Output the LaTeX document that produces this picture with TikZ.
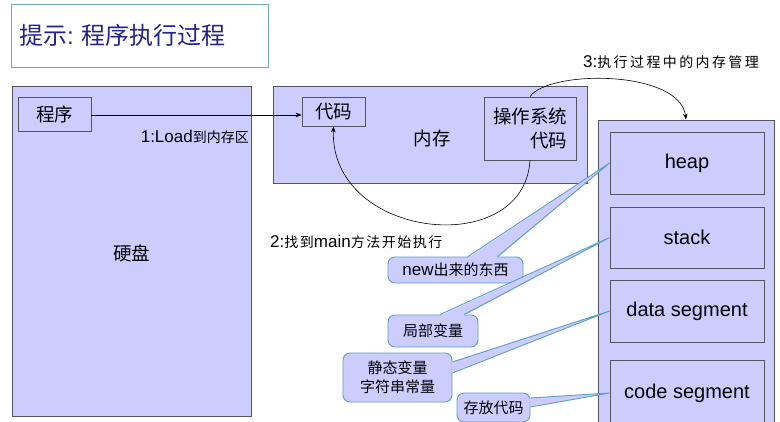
\documentclass[tikz,border=0pt]{standalone}
\usepackage{fontspec}
\setmainfont{Noto Sans CJK SC}
\newfontfamily\lat{Liberation Sans}
\newfontfamily\cjkA[LetterSpace=11]{Noto Sans CJK SC}
\newfontfamily\cjkB[LetterSpace=17]{Noto Sans CJK SC}
\usetikzlibrary{arrows.meta}
\definecolor{boxfill}{RGB}{204,204,255}
\definecolor{boxline}{RGB}{85,85,95}
\definecolor{callline}{RGB}{90,160,195}
\definecolor{titleline}{RGB}{110,170,170}
\definecolor{titletext}{RGB}{35,35,140}
\newcommand{\latbig}[1]{{\lat\fontsize{17}{20}\selectfont #1}}
\begin{document}
\begin{tikzpicture}[x=1pt,y=-1pt,
  box/.style={draw=boxline,fill=boxfill,line width=0.8pt,inner sep=0pt,anchor=center},
  callbox/.style={draw=callline,fill=boxfill,line width=0.9pt,rounded corners=7pt,inner sep=0pt,anchor=center,font=\fontsize{15}{19}\selectfont,align=center},
  callwedge/.style={fill=boxfill},
  callwedgeline/.style={draw=callline,line width=0.9pt},
  arr/.style={-{Stealth[length=6pt,width=4.5pt]},line width=0.6pt,black},
  lbl/.style={inner sep=0pt,font=\fontsize{14}{18}\selectfont},
  big/.style={font=\fontsize{18.5}{24}\selectfont},
  seg/.style={box,minimum width=154pt,font=\lat\fontsize{20}{24}\selectfont}]
\useasboundingbox (0,0) rectangle (780,421);
\fill[white] (0,0) rectangle (780,421);
% title
\node[draw=titleline,line width=0.8pt,fill=white,minimum width=257pt,minimum height=63pt,inner sep=0pt] (titlebox) at (139.5,35.5) {};
\node[anchor=west,inner sep=0pt,text=titletext,font=\fontsize{24}{28}\selectfont] (title) at (19,35) {提示{\lat :} 程序执行过程};
% hard disk
\node[box,minimum width=239pt,minimum height=330pt] (disk) at (131.5,251) {};
\node[big,inner sep=0pt] (disklbl) at (131.5,253) {硬盘};
\node[box,big,minimum width=73pt,minimum height=34pt] (prog) at (54.5,114) {程序};
\node[lbl,anchor=east] (l1) at (249,137) {\latbig{1:Load}到内存区};
% memory
\node[box,minimum width=314pt,minimum height=97pt] (mem) at (430,134.5) {};
\node[big,inner sep=0pt] (memlbl) at (432,138) {内存};
\node[box,big,minimum width=63pt,minimum height=29pt] (code) at (333.5,111.5) {代码};
\node[box,big,minimum width=92pt,minimum height=63pt,align=right] (os) at (530,128.5) {操作系统\\代码};
% right memory area
\node[box,minimum width=176pt,minimum height=320pt] (rbox) at (686,280) {};
\node[seg,minimum height=62pt] (heap) at (687,163) {heap};
\node[seg,minimum height=61pt] (stack) at (687,237.5) {stack};
\node[seg,minimum height=62pt] (data) at (687,311) {data segment};
\node[seg,minimum height=66pt] (cseg) at (687,393) {\raisebox{3pt}{code segment}};
% arrows
\draw[arr] (prog.east) ++(0,1) coordinate (p1) -- (p1 -| code.west);
\draw[arr] (os.south) .. controls +(-6,100) and +(-4,113) .. (code.south);
\draw[arr] (os.north) .. controls +(19,-27) and +(-6,-50) .. (rbox.north);
\node[lbl,anchor=west] (l2) at (270,242) {\latbig{2:}{\cjkA 找到}\latbig{main}{\cjkA 方法开始执行}};
\node[lbl,anchor=west] (l3) at (583,62) {\latbig{3:}{\cjkB 执行过程中的内存管理}};
% callouts
\node[callbox,minimum width=135pt,minimum height=26pt] (new) at (455.5,270) {\latbig{new}出来的东西};
\fill[callwedge] ([xshift=12.5pt,yshift=-1.2pt]new.north) -- (heap.west) -- ([xshift=42pt,yshift=-1.2pt]new.north) -- cycle;
\draw[callwedgeline] ([xshift=12.5pt]new.north) -- (heap.west) -- ([xshift=42pt]new.north);
\node[callbox,minimum width=90pt,minimum height=32pt] (local) at (433,331) {局部变量};
\fill[callwedge] ([xshift=7pt,yshift=-1.2pt]local.north) -- (stack.west) -- ([xshift=31pt,yshift=-1.2pt]local.north) -- cycle;
\draw[callwedgeline] ([xshift=7pt]local.north) -- (stack.west) -- ([xshift=31pt]local.north);
\node[callbox,minimum width=109pt,minimum height=49pt] (static) at (397.5,377.5) {静态变量\\字符串常量};
\fill[callwedge] ([xshift=-1.2pt,yshift=15.5pt]static.east) -- (data.west) -- ([xshift=-1.2pt,yshift=4.5pt]static.east) -- cycle;
\draw[callwedgeline] ([yshift=15.5pt]static.east) -- (data.west) -- ([yshift=4.5pt]static.east);
\node[callbox,minimum width=73pt,minimum height=29pt] (store) at (493.5,407.5) {存放代码};
\fill[callwedge] ([xshift=-1.2pt,yshift=9.5pt]store.east) -- (cseg.west) -- ([xshift=-1.2pt,yshift=0.5pt]store.east) -- cycle;
\draw[callwedgeline] ([yshift=9.5pt]store.east) -- (cseg.west) -- ([yshift=0.5pt]store.east);
\end{tikzpicture}
\end{document}
